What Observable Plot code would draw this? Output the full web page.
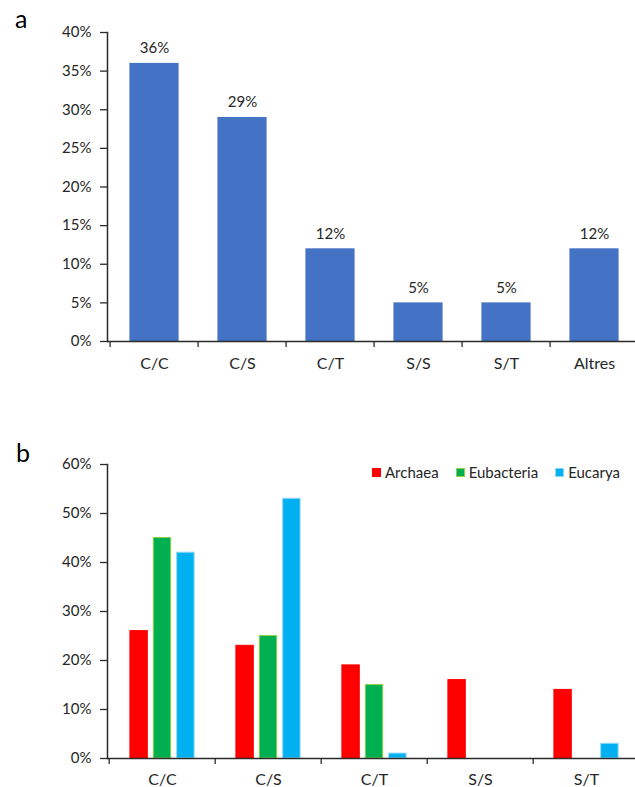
<!DOCTYPE html>
<html><head><meta charset="utf-8">
<script src="https://cdn.jsdelivr.net/npm/d3@7"></script>
<script src="https://cdn.jsdelivr.net/npm/@observablehq/plot@0.6"></script>
<style>
body{margin:0;width:635px;height:787px;overflow:hidden;background:#fff;font-family:Lato,sans-serif;position:relative}
.panel{position:absolute;left:0}
.letter{position:absolute;font-size:25px;line-height:1;color:#000}
#legend{position:absolute;left:372px;top:465px;display:flex;align-items:center;font-size:15px;line-height:14px;color:#262626}
#legend .item{display:flex;align-items:center;margin-right:17px}
#legend .sw{width:9px;height:9px;margin-right:4px;box-sizing:border-box}
</style></head><body>
<div id="a" class="panel" style="top:0"></div>
<div id="b" class="panel" style="top:400px"></div>
<div class="letter" style="left:15px;top:6px">a</div>
<div class="letter" style="left:16px;top:440px">b</div>
<div id="legend"></div>
<script>
// Panel a
const catsA = ["C/C", "C/S", "C/T", "S/S", "S/T", "Altres"];
const valsA = [0.36, 0.29, 0.12, 0.05, 0.05, 0.12];
const ticksA = [0, 0.05, 0.10, 0.15, 0.20, 0.25, 0.30, 0.35, 0.40];

// Panel b
const catsB = ["C/C", "C/S", "C/T", "S/S", "S/T"];
const seriesB = ["Archaea", "Eubacteria", "Eucarya"];
const archaea = [0.26, 0.23, 0.19, 0.16, 0.14];
const eubacteria = [0.45, 0.25, 0.15, 0, 0];
const eucarya = [0.42, 0.53, 0.01, 0, 0.03];
const ticksB = [0, 0.1, 0.2, 0.3, 0.4, 0.5, 0.6];
const colorsB = ["#FF0000", "#00B050", "#00B0F0"];
const strokesB = ["#FF0000", "#92D050", "#8DD8F8"];

const W = 635, ML = 107, MR = -5;
const axisColor = "#2b2b2b";
const pct = d => Math.round(d * 100) + "%";
const baseStyle = {fontFamily: "Lato, sans-serif", fontSize: "15px", color: "#262626", background: "transparent", overflow: "visible"};

const stepA = (W - ML - MR) / catsA.length;
const barWA = 50;
const dataA = catsA.map((c, i) => ({cat: c, v: valsA[i]}));

const pa = Plot.plot({
  width: W, height: 385,
  marginLeft: ML, marginRight: MR, marginTop: 32, marginBottom: 44,
  style: baseStyle,
  x: {domain: catsA, padding: 0},
  y: {domain: [0, 0.4]},
  marks: [
    Plot.barY(dataA, {x: "cat", y: "v", fill: "#4472C4", insetLeft: (stepA - barWA) / 2, insetRight: (stepA - barWA) / 2}),
    Plot.text(dataA, {x: "cat", y: "v", text: d => pct(d.v), lineAnchor: "bottom", dy: -10, fontSize: 15, fill: "#262626"}),
    Plot.axisY(ticksA, {tickSize: 7, tickPadding: 9, tickFormat: pct, fontSize: 15, stroke: axisColor, strokeWidth: 1.3, label: null}),
    Plot.axisX({tickSize: 0, tickPadding: 16, fontSize: 16, label: null, fill: "#262626"}),
    Plot.ruleX(catsA, {x: d => d, y1: 0, y2: 0, insetBottom: -6, dx: -stepA / 2, stroke: axisColor, strokeWidth: 1.3}),
    Plot.frame({anchor: "left", stroke: axisColor, strokeWidth: 1.5}),
    Plot.ruleY([0], {stroke: axisColor, strokeWidth: 1.5})
  ]
});
document.getElementById("a").append(pa);

const stepB = (W - ML - MR) / catsB.length;
const barWB = 18, barStep = 23.4;
const seriesVals = [archaea, eubacteria, eucarya];

const pb = Plot.plot({
  width: W, height: 387,
  marginLeft: ML, marginRight: MR, marginTop: 64, marginBottom: 29,
  style: baseStyle,
  x: {domain: catsB, padding: 0},
  y: {domain: [0, 0.6]},
  marks: [
    ...seriesB.map((s, i) => Plot.barY(
      catsB.map((c, j) => ({cat: c, v: seriesVals[i][j]})).filter(d => d.v > 0),
      {x: "cat", y: "v", fill: colorsB[i], stroke: strokesB[i], strokeWidth: 1,
       dx: (i - 1) * barStep, insetLeft: (stepB - barWB) / 2, insetRight: (stepB - barWB) / 2})),
    Plot.axisY(ticksB, {tickSize: 7, tickPadding: 9, tickFormat: pct, fontSize: 15, stroke: axisColor, strokeWidth: 1.3, label: null}),
    Plot.axisX({tickSize: 0, tickPadding: 15, fontSize: 16, label: null, fill: "#262626"}),
    Plot.ruleX(catsB, {x: d => d, y1: 0, y2: 0, insetBottom: -6, dx: -stepB / 2, stroke: axisColor, strokeWidth: 1.3}),
    Plot.frame({anchor: "left", stroke: axisColor, strokeWidth: 1.5}),
    Plot.ruleY([0], {stroke: axisColor, strokeWidth: 1.5})
  ]
});
document.getElementById("b").append(pb);

const legend = document.getElementById("legend");
seriesB.forEach((s, i) => {
  const item = document.createElement("div");
  item.className = "item";
  const sw = document.createElement("span");
  sw.className = "sw";
  sw.style.background = colorsB[i];
  sw.style.border = "1px solid " + strokesB[i];
  const lab = document.createElement("span");
  lab.textContent = s;
  item.append(sw, lab);
  legend.append(item);
});
</script>
</body></html>
